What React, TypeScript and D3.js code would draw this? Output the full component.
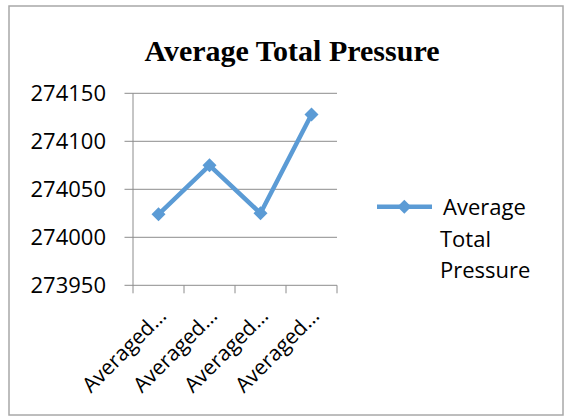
import React from "react";
import * as d3 from "d3";

const categories = ["Averaged…", "Averaged…", "Averaged…", "Averaged…"];
const values = [274024, 274075, 274025, 274128];
const yTicks = [273950, 274000, 274050, 274100, 274150];
const seriesName = ["Average", "Total", "Pressure"];
const title = "Average Total Pressure";

const W = 566;
const H = 417;
const plot = { left: 133, right: 337, top: 93.3, bottom: 285.3 };
const blue = "#5B9BD5";
const grid = "#8c8c8c";
const sans = "'Open Sans', sans-serif";

function diamond(cx: number, cy: number, r: number) {
  return `M${cx},${cy - r}L${cx + r},${cy}L${cx},${cy + r}L${cx - r},${cy}Z`;
}

export default function App() {
  const idx = categories.map((_, i) => i);
  const x = d3
    .scaleBand<number>()
    .domain(idx)
    .range([plot.left, plot.right])
    .padding(0);
  const y = d3
    .scaleLinear()
    .domain([273950, 274150])
    .range([plot.bottom, plot.top]);
  const cx = (i: number) => (x(i) as number) + x.bandwidth() / 2;
  const line = d3
    .line<number>()
    .x((_, i) => cx(i))
    .y((d) => y(d));

  const tickXs = [...idx.map((i) => x(i) as number), plot.right];

  return (
    <svg
      width={W}
      height={H}
      style={{ position: "absolute", left: 0, top: 0, background: "#fff" }}
    >
      <rect x={9} y={6} width={554} height={409} fill="#fff" stroke="#a8a8a8" strokeWidth={1.5} />
      <text
        x={292}
        y={61}
        textAnchor="middle"
        fontFamily="'Liberation Serif', 'Times New Roman', serif"
        fontWeight="bold"
        fontSize={30}
        fill="#000"
      >
        {title}
      </text>

      {/* horizontal gridlines and value labels */}
      {yTicks.map((t) => (
        <g key={t}>
          <line
            x1={plot.left - 8.5}
            x2={plot.right}
            y1={y(t)}
            y2={y(t)}
            stroke={grid}
            strokeWidth={1}
          />
          <text
            x={106}
            y={y(t)}
            dy="0.36em"
            textAnchor="end"
            fontFamily={sans}
            fontSize={22}
            fill="#000"
          >
            {t}
          </text>
        </g>
      ))}

      {/* value axis */}
      <line x1={plot.left} x2={plot.left} y1={plot.top} y2={plot.bottom} stroke={grid} strokeWidth={1} />

      {/* category tick marks */}
      {tickXs.map((tx, i) => (
        <line key={i} x1={tx} x2={tx} y1={plot.bottom} y2={plot.bottom + 8} stroke={grid} strokeWidth={1} />
      ))}

      {/* category labels */}
      {categories.map((c, i) => (
        <text
          key={i}
          transform={`translate(${cx(i) + 9},${plot.bottom + 32}) rotate(-45)`}
          textAnchor="end"
          fontFamily={sans}
          fontSize={21}
          fill="#000"
        >
          {c}
        </text>
      ))}

      {/* series */}
      <path d={line(values) || ""} fill="none" stroke={blue} strokeWidth={4.5} strokeLinejoin="round" />
      {values.map((v, i) => (
        <path key={i} d={diamond(cx(i), y(v), 7)} fill={blue} />
      ))}

      {/* legend */}
      <line x1={377} x2={432} y1={206.7} y2={206.7} stroke={blue} strokeWidth={4.5} />
      <path d={diamond(404.3, 206.7, 7)} fill={blue} />
      {seriesName.map((s, i) => (
        <text
          key={s}
          x={i === 0 ? 443 : 440}
          y={215 + i * 31.7}
          fontFamily={sans}
          fontSize={22}
          fill="#000"
        >
          {s}
        </text>
      ))}
    </svg>
  );
}
